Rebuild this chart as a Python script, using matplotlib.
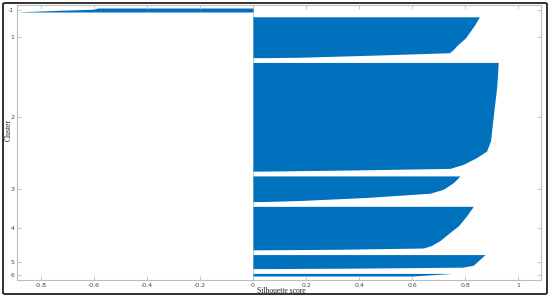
import matplotlib
matplotlib.use("Agg")
import matplotlib.pyplot as plt
from matplotlib.patches import FancyBboxPatch
import numpy as np

# clusters (top to bottom) and number of points in each
labels = ['-1', '1', '2', '3', '4', '5', '6']
sizes = [20, 204, 543, 128, 217, 70, 13]

# silhouette profile of each cluster: position inside the cluster (0 = top row, 1 = bottom row)
# and the silhouette value of that row
cm1_frac = [0, 0.3, 0.55, 0.75, 0.9, 1.0]
cm1_val = [-0.585, -0.60, -0.72, -0.80, -0.86, -0.885]

c1_frac = [0, 0.2, 0.52, 0.69, 0.80, 0.88, 0.94, 0.99, 1.0]
c1_val = [0.853, 0.835, 0.80, 0.77, 0.755, 0.74, 0.45, 0.18, 0.06]

c2_frac = [0, 0.23, 0.54, 0.72, 0.815, 0.876, 0.938, 0.975, 0.99, 1.0]
c2_val = [0.924, 0.918, 0.903, 0.895, 0.88, 0.842, 0.792, 0.742, 0.365, 0.04]

c3_frac = [0, 0.26, 0.52, 0.676, 0.84, 0.96, 1.0]
c3_val = [0.78, 0.755, 0.717, 0.667, 0.428, 0.177, 0.04]

c4_frac = [0, 0.216, 0.447, 0.6, 0.79, 0.908, 0.96, 0.99, 1.0]
c4_val = [0.83, 0.805, 0.774, 0.742, 0.704, 0.67, 0.641, 0.30, 0.05]

c5_frac = [0, 0.33, 0.76, 0.9, 0.97, 1.0]
c5_val = [0.874, 0.855, 0.83, 0.79, 0.365, 0.05]

c6_frac = [0, 0.5, 1.0]
c6_val = [0.75, 0.68, 0.60]

profiles = [(cm1_frac, cm1_val), (c1_frac, c1_val), (c2_frac, c2_val), (c3_frac, c3_val),
            (c4_frac, c4_val), (c5_frac, c5_val), (c6_frac, c6_val)]

xticks = [-0.8, -0.6, -0.4, -0.2, 0, 0.2, 0.4, 0.6, 0.8, 1]
xticklabels = ['-0.8', '-0.6', '-0.4', '-0.2', '0', '0.2', '0.4', '0.6', '0.8', '1']

gap = 24  # empty rows between clusters
bar_color = '#0072BD'
axis_color = '#bdbdbd'

fig = plt.figure(figsize=(5.5, 2.99), dpi=100)
ax = fig.add_axes([17/550, 1 - 280/299, (541 - 17)/550, (280 - 5)/299])

start = gap
centers = []
for (frac, val), n in zip(profiles, sizes):
    y = start + np.array(frac) * n
    ax.fill_betweenx(y, 0, val, color=bar_color, linewidth=0)
    centers.append(start + n / 2)
    start += n + gap
last_row = start - gap

ax.axvline(0, color=axis_color, linewidth=0.6, zorder=0)

ax.set_xlim(-0.889, 1.085)
ax.set_ylim(last_row + 20, gap - 15)

ax.set_xticks(xticks)
ax.set_xticklabels(xticklabels)
ax.set_yticks(centers)
ax.set_yticklabels(labels)
ax.tick_params(direction='in', length=3, width=0.6, color=axis_color, top=True, right=True,
               labelsize=4.5, labelcolor='#444444', pad=2)
for s in ax.spines.values():
    s.set_color(axis_color)
    s.set_linewidth(0.8)

fig.text(257/550, 1 - 291/299, 'Silhouette score', family='Liberation Serif', fontsize=5.5,
         color='#222222', ha='left', va='center')
fig.text(9/550, 1 - 130/299, 'Cluster', family='Liberation Serif', fontsize=5.5,
         color='#222222', ha='center', va='center', rotation=90)

# dark frame round the whole picture
frame = FancyBboxPatch((3/550, 1 - 294/299), 544/550, 291/299, boxstyle='round,pad=0,rounding_size=0.004',
                       transform=fig.transFigure, fill=False, edgecolor='#222222', linewidth=1.3)
fig.patches.append(frame)

fig.savefig('out.png', dpi=100)
